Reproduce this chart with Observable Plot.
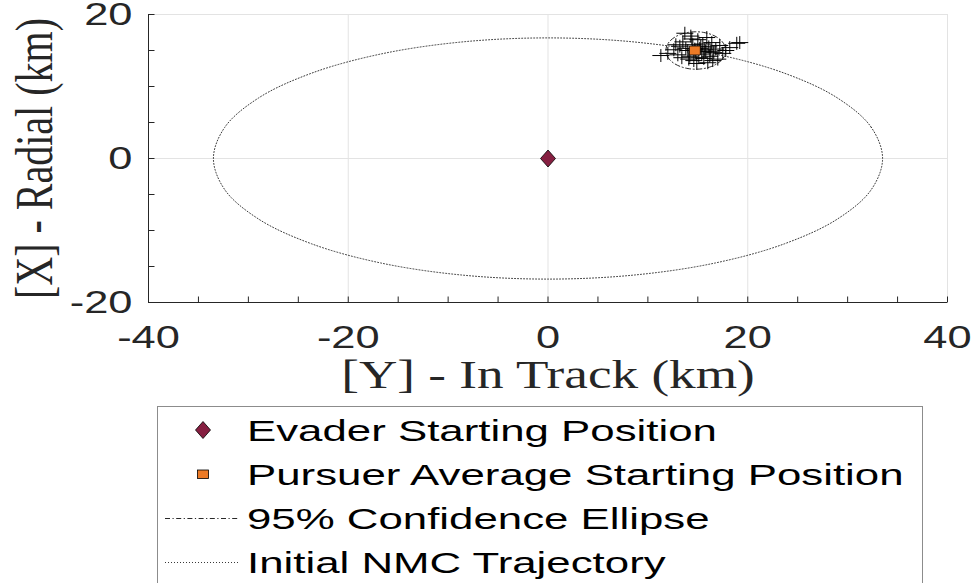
<!DOCTYPE html>
<html><head><meta charset="utf-8">
<script src="https://cdn.jsdelivr.net/npm/d3@7"></script>
<script src="https://cdn.jsdelivr.net/npm/@observablehq/plot@0.6"></script>
<style>
body{margin:0;background:#fff;width:972px;height:583px;overflow:hidden;position:relative;font-family:"Liberation Sans",Arial,sans-serif}
#chart{position:absolute;left:0;top:0}
#legend{position:absolute;left:157px;top:406px;width:766px;height:220px;border:1px solid #8c8c8c;background:#fff;box-sizing:border-box}
#legend svg{position:absolute;left:0;top:0}
.row{position:absolute;left:89px;height:44px;line-height:44px;font-size:30px;white-space:nowrap;transform:scaleX(1.46);transform-origin:0 50%;color:#000}
</style></head>
<body>
<div id="chart"></div>
<div id="legend"></div>
<script>
// ---- data ----
const xLabel = "[Y] - In Track (km)";
const yLabel = "[X] - Radial (km)";
const xTicks = [-40, -20, 0, 20, 40];
const yTicks = [-20, 0, 20];
const xTickMarks = [-40, -35, -30, -25, -20, -15, -10, -5, 0, 5, 10, 15, 20, 25, 30, 35, 40];
const yTickMarks = [-20, -15, -10, -5, 0, 5, 10, 15, 20];
const legendLabels = ["Evader Starting Position", "Pursuer Average Starting Position", "95% Confidence Ellipse", "Initial NMC Trajectory"];

const evaderInTrack = [0];
const evaderRadial = [0];
const pursuerMeanInTrack = [14.7];
const pursuerMeanRadial = [15.0];

const pursuerInTrack = [11.3,12.0,12.6,13.0,13.2,13.5,13.7,14.3,14.0,14.2,14.5,14.6,14.8,14.9,15.0,15.2,15.4,15.5,15.6,15.8,16.0,16.1,16.2,16.4,16.6,16.8,17.0,17.2,17.5,18.2,18.9,19.2,13.8,14.4,15.1,15.9,16.5,13.4,14.7,15.3,15.7,16.3,12.8,17.8,14.1];
const pursuerRadial  = [14.3,14.6,15.1,14.4,15.6,16.2,17.4,17.0,15.0,14.2,15.8,13.6,14.8,13.2,16.5,15.3,14.5,15.9,13.9,14.9,13.3,15.5,14.2,16.1,14.7,15.2,13.8,15.7,14.6,15.4,16.0,16.1,15.3,16.6,14.0,16.8,13.6,14.0,15.2,15.6,15.1,14.9,15.8,15.0,13.8];

const ellipseInTrack = [17.80,17.70,17.40,16.92,16.30,15.58,14.80,14.02,13.30,12.68,12.20,11.90,11.80,11.90,12.20,12.68,13.30,14.02,14.80,15.58,16.30,16.92,17.40,17.70];
const ellipseRadial  = [15.00,15.67,16.30,16.84,17.25,17.51,17.60,17.51,17.25,16.84,16.30,15.67,15.00,14.33,13.70,13.16,12.75,12.49,12.40,12.49,12.75,13.16,13.70,14.33];

const nmcInTrack = [33.50,32.36,29.01,23.69,16.75,8.67,0,-8.67,-16.75,-23.69,-29.01,-32.36,-33.50,-32.36,-29.01,-23.69,-16.75,-8.67,0,8.67,16.75,23.69,29.01,32.36];
const nmcRadial  = [0,4.34,8.38,11.84,14.51,16.18,16.75,16.18,14.51,11.84,8.38,4.34,0,-4.34,-8.38,-11.84,-14.51,-16.18,-16.75,-16.18,-14.51,-11.84,-8.38,-4.34];

// ---- tables ----
const zipPts = (a, b) => a.map((v, i) => ({inTrack: v, radial: b[i]}));
const nmc = zipPts(nmcInTrack, nmcRadial);
const ell = zipPts(ellipseInTrack, ellipseRadial);
const pursuers = zipPts(pursuerInTrack, pursuerRadial);
const mean = zipPts(pursuerMeanInTrack, pursuerMeanRadial);
const evader = zipPts(evaderInTrack, evaderRadial);
const xMarks = xTickMarks.map(v => ({inTrack: v, radial: yTicks[0]}));
const yMarks = yTickMarks.map(v => ({inTrack: xTicks[0], radial: v}));

// custom symbols
const plusSym = {draw(ctx, size) { const r = Math.sqrt(size / Math.PI); const h = r * 0.76; ctx.moveTo(-r, 0); ctx.lineTo(r, 0); ctx.moveTo(0, -h); ctx.lineTo(0, h); }};
const diamondSym = {draw(ctx, size) { const r = Math.sqrt(size / Math.PI); const w = r * 0.88; ctx.moveTo(0, -r); ctx.lineTo(w, 0); ctx.lineTo(0, r); ctx.lineTo(-w, 0); ctx.closePath(); }};
const squareSym = {draw(ctx, size) { const r = Math.sqrt(size / Math.PI); const h = r * 0.82; ctx.rect(-r, -h, 2 * r, 2 * h); }};
const tickUp = {draw(ctx, size) { const r = Math.sqrt(size / Math.PI); ctx.moveTo(0, 0); ctx.lineTo(0, -r); }};
const tickRight = {draw(ctx, size) { const r = Math.sqrt(size / Math.PI); ctx.moveTo(0, 0); ctx.lineTo(r, 0); }};

const axisColor = "#262626";
const fmt = d => String(d);

const chart = Plot.plot({
  width: 972, height: 405,
  marginLeft: 148, marginRight: 25, marginTop: 14, marginBottom: 103,
  style: {fontFamily: "Liberation Sans, Arial, sans-serif", background: "#fff", color: axisColor, overflow: "visible"},
  x: {domain: [-40, 40], axis: null},
  y: {domain: [-20, 20], axis: null},
  marks: [
    Plot.ruleX(xTicks, {x: d => d, stroke: "#e3e3e3", strokeWidth: 1}),
    Plot.ruleY(yTicks, {y: d => d, stroke: "#e3e3e3", strokeWidth: 1}),
    Plot.line(nmc, {x: "inTrack", y: "radial", curve: "catmull-rom-closed", stroke: "#222", strokeWidth: 0.9, strokeDasharray: "1,2"}),
    Plot.line(ell, {x: "inTrack", y: "radial", curve: "catmull-rom-closed", stroke: "#111", strokeWidth: 0.9, strokeDasharray: "5,2.5,1.2,2.5"}),
    Plot.dot(pursuers, {x: "inTrack", y: "radial", symbol: plusSym, r: 8.5, fill: "none", stroke: "#000", strokeWidth: 1}),
    Plot.dot(mean, {x: "inTrack", y: "radial", symbol: squareSym, r: 5.5, fill: "#EC7A26", stroke: "#000", strokeWidth: 0.8}),
    Plot.dot(evader, {x: "inTrack", y: "radial", symbol: diamondSym, r: 8.5, fill: "#861F41", stroke: "#000", strokeWidth: 0.8}),
    Plot.ruleX([xTicks[0]], {stroke: axisColor, strokeWidth: 1}),
    Plot.ruleY([yTicks[0]], {stroke: axisColor, strokeWidth: 1}),
    Plot.dot(xMarks, {x: "inTrack", y: "radial", symbol: tickUp, r: 6, fill: "none", stroke: axisColor, strokeWidth: 1}),
    Plot.dot(yMarks, {x: "inTrack", y: "radial", symbol: tickRight, r: 6, fill: "none", stroke: axisColor, strokeWidth: 1}),
    Plot.axisX(xTicks, {tickSize: 0, tickPadding: 23, fontSize: 31, tickFormat: fmt, label: null, fill: axisColor}),
    Plot.axisY(yTicks, {tickSize: 0, tickPadding: 16, fontSize: 31, tickFormat: fmt, label: null, fill: axisColor, dy: 1}),
    Plot.text([xLabel], {frameAnchor: "bottom", textAnchor: "middle", dy: 73, lineAnchor: "middle", fontSize: 40, fontFamily: "Liberation Serif, serif", fill: axisColor, className: "serif-label"}),
    Plot.text([yLabel], {frameAnchor: "left", textAnchor: "middle", rotate: -90, dx: -114, lineAnchor: "middle", fontSize: 40, fontFamily: "Liberation Serif, serif", fill: axisColor, className: "serif-label"})
  ]
});

// horizontal stretch of glyphs (the reference figure is stretched horizontally)
chart.querySelectorAll("text").forEach(t => {
  const serif = t.closest(".serif-label") != null;
  const s = serif ? 1.33 : 1.4;
  const tr = t.getAttribute("transform") || "";
  if (/rotate/.test(tr)) t.setAttribute("transform", tr + ` scale(1,${s})`);
  else t.setAttribute("transform", tr + ` scale(${s},1)`);
});
document.getElementById("chart").appendChild(chart);

// ---- legend ----
const legend = document.getElementById("legend");
const ns = "http://www.w3.org/2000/svg";
const lsvg = document.createElementNS(ns, "svg");
lsvg.setAttribute("width", 764); lsvg.setAttribute("height", 218);
lsvg.innerHTML = `
  <path d="M45,14.5 L52.5,23 L45,31.5 L37.5,23 Z" fill="#861F41" stroke="#000" stroke-width="0.8"/>
  <rect x="39.5" y="63" width="11" height="8.5" fill="#EC7A26" stroke="#000" stroke-width="0.8"/>
  <line x1="7" x2="80" y1="111.5" y2="111.5" stroke="#111" stroke-width="0.9" stroke-dasharray="5,2.5,1.2,2.5"/>
  <line x1="7" x2="80" y1="155.5" y2="155.5" stroke="#222" stroke-width="0.9" stroke-dasharray="1,2"/>`;
legend.appendChild(lsvg);
legendLabels.forEach((lab, i) => {
  const d = document.createElement("div");
  d.className = "row";
  d.style.top = (2 + 44 * i) + "px";
  d.textContent = lab;
  legend.appendChild(d);
});
</script>
</body></html>
